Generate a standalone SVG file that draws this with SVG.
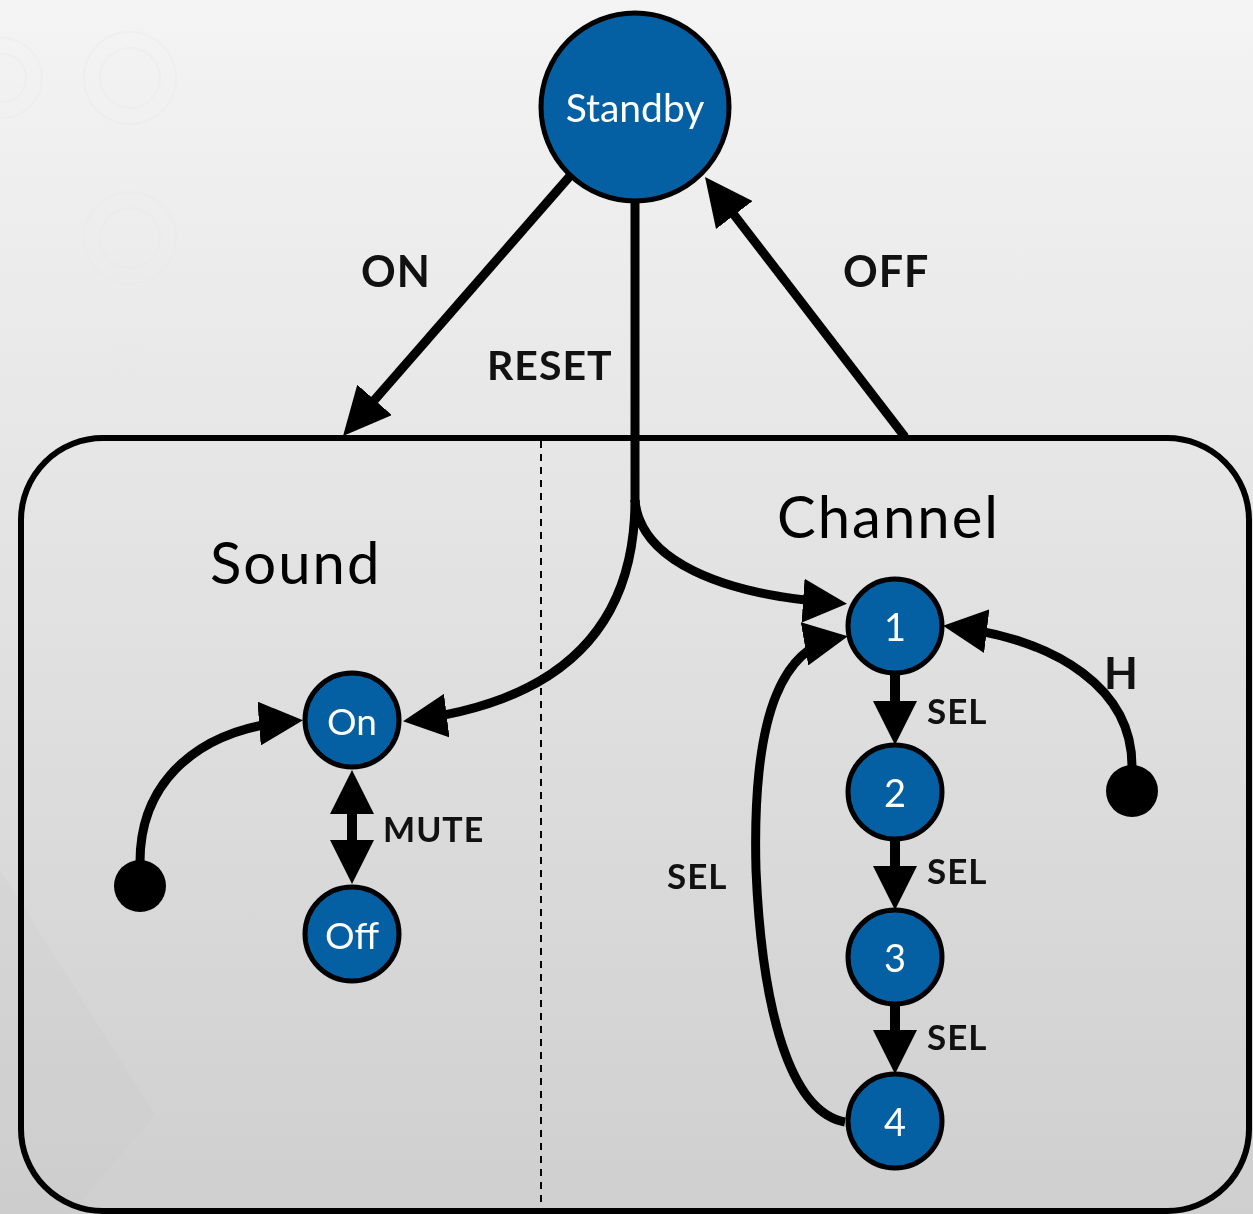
<svg xmlns="http://www.w3.org/2000/svg" width="1253" height="1214" viewBox="0 0 1253 1214">
<defs>
<linearGradient id="bg" x1="0" y1="0" x2="0" y2="1">
<stop offset="0" stop-color="#f4f4f4"/>
<stop offset="1" stop-color="#cfcfcf"/>
</linearGradient>
<marker id="arr" viewBox="0 0 44 44" refX="34" refY="22" markerWidth="44" markerHeight="44" markerUnits="userSpaceOnUse" orient="auto-start-reverse">
<path d="M0,0 L44,22 L0,44 Z" fill="#000"/>
</marker>
<marker id="arrL" viewBox="0 0 48 46" refX="38" refY="23" markerWidth="48" markerHeight="46" markerUnits="userSpaceOnUse" orient="auto">
<path d="M0,0 L48,23 L0,46 Z" fill="#000"/>
</marker>
</defs>
<style>
.node circle{fill:#0560a3;stroke:#000;stroke-width:5}
.node text{fill:#fff;font-family:Lato,"Open Sans","DejaVu Sans",sans-serif;text-anchor:middle;dominant-baseline:central}
.conn path,.conn line{fill:none;stroke:#000;stroke-width:9;stroke-linecap:butt}
.lbl{font-family:Lato,"Open Sans","DejaVu Sans",sans-serif;font-weight:bold;fill:#111;letter-spacing:1px}
.title{font-family:Lato,"Open Sans","DejaVu Sans",sans-serif;fill:#000;font-size:58px;letter-spacing:2px}
.dot{fill:#000}
.wm{fill:none;stroke:#e9e9e9;stroke-width:2}
</style>
<rect x="0" y="0" width="1253" height="1214" fill="url(#bg)"/>
<!-- faint watermark -->
<g opacity="0.35">
<circle class="wm" cx="130" cy="78" r="46"/><circle class="wm" cx="130" cy="78" r="30"/>
<circle class="wm" cx="2" cy="78" r="40"/><circle class="wm" cx="2" cy="78" r="24"/>
<circle class="wm" cx="130" cy="238" r="46"/><circle class="wm" cx="130" cy="238" r="30"/>
<rect class="wm" x="120" y="345" width="16" height="95"/>
<polygon points="0,870 0,1214 70,1214 155,1115" fill="#c8c8c8" opacity="0.5"/>
</g>
<!-- container -->
<g id="container">
<rect x="21" y="438" width="1228" height="773" rx="82" ry="82" fill="none" stroke="#000" stroke-width="6"/>
<line x1="541" y1="441" x2="541" y2="1211" stroke="#000" stroke-width="2" stroke-dasharray="7,6"/>
<text class="title" x="210" y="584">Sound</text>
<text class="title" x="777" y="538">Channel</text>
</g>
<!-- connectors -->
<g id="connectors" class="conn">
<path d="M570,176 L349.6,428.5" marker-end="url(#arrL)"/>
<path d="M905,437 L711.1,184.9" marker-end="url(#arrL)"/>
<path d="M635,202 L635,502"/>
<path d="M635,500 C635,620 570,700 413,720" marker-end="url(#arr)"/>
<path d="M635,500 C640,560 720,595 837,603" marker-end="url(#arr)"/>
<path d="M140,862 C140,780 200,728 293,721" marker-end="url(#arr)"/>
<path d="M352,780 L352,874" style="stroke-width:10" marker-start="url(#arr)" marker-end="url(#arr)"/>
<path d="M895,673 L895,735" style="stroke-width:10" marker-end="url(#arr)"/>
<path d="M895,839 L895,900" style="stroke-width:10" marker-end="url(#arr)"/>
<path d="M895,1004 L895,1064" style="stroke-width:10" marker-end="url(#arr)"/>
<path d="M845,1122 C790,1112 762,1010 756,870 C752,720 780,648 838,638" marker-end="url(#arr)"/>
<path d="M1132,766 C1132,690 1060,640 953,627" marker-end="url(#arr)"/>
<circle class="dot" cx="140" cy="886" r="26"/>
<circle class="dot" cx="1132" cy="791" r="26"/>
</g>
<!-- labels -->
<g id="labels">
<text class="lbl" x="361" y="287" font-size="43">ON</text>
<text class="lbl" x="843" y="287" font-size="43">OFF</text>
<text class="lbl" x="487" y="380" font-size="41">RESET</text>
<text class="lbl" x="383" y="842" font-size="34">MUTE</text>
<text class="lbl" x="927" y="724" font-size="35">SEL</text>
<text class="lbl" x="927" y="884" font-size="35">SEL</text>
<text class="lbl" x="927" y="1050" font-size="35">SEL</text>
<text class="lbl" x="667" y="889" font-size="35">SEL</text>
<text class="lbl" x="1104" y="689" font-size="44">H</text>
</g>
<!-- nodes -->
<g id="standby" class="node"><circle cx="635" cy="107" r="94"/><text x="635" y="107" font-size="39">Standby</text></g>
<g id="on" class="node"><circle cx="352" cy="720" r="47"/><text x="352" y="720" font-size="37">On</text></g>
<g id="off" class="node"><circle cx="352" cy="934" r="47"/><text x="352" y="934" font-size="37">Off</text></g>
<g id="ch1" class="node"><circle cx="895" cy="626" r="47"/><text x="895" y="626" font-size="38">1</text></g>
<g id="ch2" class="node"><circle cx="895" cy="792" r="47"/><text x="895" y="792" font-size="38">2</text></g>
<g id="ch3" class="node"><circle cx="895" cy="957" r="47"/><text x="895" y="957" font-size="38">3</text></g>
<g id="ch4" class="node"><circle cx="895" cy="1121" r="47"/><text x="895" y="1121" font-size="38">4</text></g>
</svg>
